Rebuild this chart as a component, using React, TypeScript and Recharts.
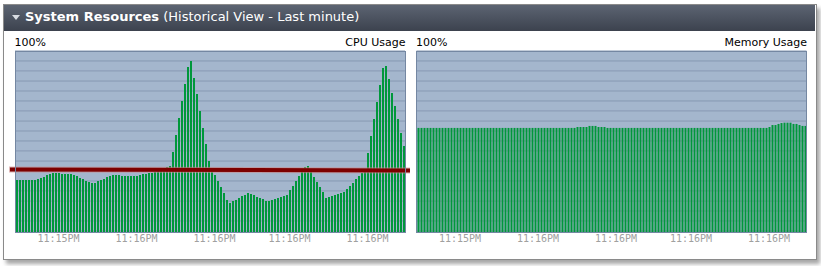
import React from 'react';
import { BarChart, Bar, XAxis, YAxis, CartesianGrid, ReferenceLine } from 'recharts';

// one sample per ~0.46s over the last minute
const cpuUsage = [
  28.7, 28.7, 28.7, 28.7, 28.7, 28.7, 28.7, 29.3, 29.8, 30.4,
  31.5, 32.0, 32.6, 32.6, 32.6, 32.0, 32.0, 32.0, 32.0, 31.5,
  30.9, 29.8, 29.3, 28.2, 27.6, 27.1, 27.1, 28.2, 28.7, 29.3,
  30.4, 30.9, 31.5, 31.5, 31.5, 30.9, 30.9, 30.9, 30.9, 30.9,
  30.9, 31.5, 32.0, 32.0, 32.6, 32.6, 33.1, 33.7, 34.3, 34.8,
  35.9, 36.5, 44.2, 53.6, 63.0, 72.4, 81.8, 91.2, 94.5, 85.1,
  76.2, 66.9, 57.5, 48.6, 39.2, 33.1, 31.5, 28.2, 24.9, 21.5,
  17.7, 16.0, 17.1, 17.7, 18.8, 19.9, 20.4, 21.5, 21.0, 20.4,
  19.3, 18.8, 18.2, 17.1, 17.1, 17.7, 18.2, 18.8, 19.3, 19.9,
  20.4, 23.2, 25.4, 28.2, 30.9, 33.1, 35.9, 36.5, 33.1, 30.4,
  27.6, 24.9, 22.1, 18.8, 19.3, 19.9, 20.4, 21.0, 21.5, 22.1,
  23.8, 25.4, 27.1, 29.3, 30.9, 32.6, 33.1, 43.6, 53.0, 62.4,
  71.8, 81.2, 90.6, 91.7, 84.5, 76.8, 69.6, 62.4, 54.7, 47.5,
];

const memoryUsage = [
  57.5, 57.5, 57.5, 57.5, 57.5, 57.5, 57.5, 57.5, 57.5, 57.5,
  57.5, 57.5, 57.5, 57.5, 57.5, 57.5, 57.5, 57.5, 57.5, 57.5,
  57.5, 57.5, 57.5, 57.5, 57.5, 57.5, 57.5, 57.5, 57.5, 57.5,
  57.5, 57.5, 57.5, 57.5, 57.5, 57.5, 57.5, 57.5, 57.5, 57.5,
  57.5, 57.5, 57.5, 57.5, 57.5, 57.5, 57.5, 57.5, 57.5, 57.5,
  57.5, 57.5, 57.5, 58.0, 58.0, 58.0, 58.0, 58.6, 58.6, 58.6,
  58.0, 58.0, 58.0, 57.5, 57.5, 57.5, 57.5, 57.5, 57.5, 57.5,
  57.5, 57.5, 57.5, 57.5, 57.5, 57.5, 57.5, 57.5, 57.5, 57.5,
  57.5, 57.5, 57.5, 57.5, 57.5, 57.5, 57.5, 57.5, 57.5, 57.5,
  57.5, 57.5, 57.5, 57.5, 57.5, 57.5, 57.5, 57.5, 57.5, 57.5,
  57.5, 57.5, 57.5, 57.5, 57.5, 57.5, 57.5, 57.5, 57.5, 57.5,
  57.5, 57.5, 57.5, 57.5, 57.5, 57.5, 57.5, 58.0, 59.1, 59.1,
  59.7, 60.2, 60.4, 60.4, 60.4, 59.7, 59.7, 59.1, 58.6, 58.6,
];

const cpuAverage = 34.3;

const samples = cpuUsage.map((_, i) => i);
const tickSamples = [14, 40, 66, 91, 117];
const tickLabels = ['11:15PM', '11:16PM', '11:16PM', '11:16PM', '11:16PM'];
const gridTicks = [94.5, 89.0, 83.4, 77.9, 72.4, 66.9, 61.3, 55.8, 50.3, 44.8, 39.2, 33.7, 28.2, 22.7, 17.1, 11.6, 6.1, 0.6];

const cpuData = samples.map((t, i) => ({ t, value: cpuUsage[i] }));
const memData = samples.map((t, i) => ({ t, value: memoryUsage[i] }));

const FONT = '"DejaVu Sans", Verdana, sans-serif';

const AvgLine = (props: any) => {
  const { x1, y1, x2, y2 } = props;
  return (
    <g>
      <line x1={x1 - 6} y1={y1 - 0.5} x2={x2 + 6} y2={y2 + 0.5} stroke="#c98a8a" strokeOpacity={0.6} strokeWidth={6} />
      <line x1={x1 - 5} y1={y1 - 0.5} x2={x2 + 5} y2={y2 + 0.5} stroke="#7d0000" strokeWidth={4} />
    </g>
  );
};

const UsageChart = ({ data, left, width, marginLeft, title, avg }: any) => (
  <div style={{ position: 'absolute', left, top: 0, width, height: 266 }}>
    <div style={{ position: 'absolute', left: marginLeft, top: 36, fontFamily: FONT, fontSize: 11, color: '#000' }}>100%</div>
    <div style={{ position: 'absolute', left: marginLeft, width: 391, top: 36, textAlign: 'right', fontFamily: FONT, fontSize: 11, color: '#000' }}>{title}</div>
    <BarChart
      width={width}
      height={266}
      data={data}
      margin={{ top: 51, left: marginLeft + 0.5, right: width - marginLeft - 390.5, bottom: 14 }}
      barCategoryGap={0}
    >
      <CartesianGrid vertical={false} stroke="#8799b3" fill="#a4b6cd" fillOpacity={1} />
      <XAxis
        dataKey="t"
        type="category"
        ticks={tickSamples}
        tickFormatter={(v: number) => tickLabels[tickSamples.indexOf(v)]}
        axisLine={false}
        tickLine={false}
        tickSize={0}
        tickMargin={3}
        height={20}
        interval={0}
        tick={{ fill: '#a0a0a0', fontSize: 10, fontFamily: '"DejaVu Sans Mono", monospace' }}
      />
      <YAxis hide domain={[0, 100]} ticks={gridTicks} interval={0} />
      <Bar dataKey="value" fill="#00973b" barSize={2} isAnimationActive={false} />
      {avg !== undefined && <ReferenceLine y={avg} shape={AvgLine} />}
    </BarChart>
    <div
      style={{
        position: 'absolute',
        left: marginLeft,
        top: 51,
        width: 391,
        height: 182,
        border: '1px solid #7487a2',
        boxSizing: 'border-box',
        pointerEvents: 'none',
      }}
    />
  </div>
);

export default function App() {
  return (
    <div style={{ position: 'absolute', left: 0, top: 0, width: 821, height: 266, background: '#fff', overflow: 'hidden' }}>
      <div
        style={{
          position: 'absolute',
          left: 3,
          top: 4,
          width: 812,
          height: 254,
          border: '1px solid #8a8a8a',
          background: '#fff',
          boxShadow: '3px 4px 4px rgba(0,0,0,0.35)',
        }}
      />
      <div
        style={{
          position: 'absolute',
          left: 4,
          top: 5,
          width: 811,
          height: 26,
          background: 'linear-gradient(#5c6472, #3c424e)',
          color: '#fff',
          fontFamily: FONT,
          fontSize: 13,
          lineHeight: '26px',
        }}
      >
        <svg width={8} height={6} style={{ position: 'absolute', left: 8, top: 10 }}>
          <polygon points="0,0 8,0 4,5" fill="#d8dce2" />
        </svg>
        <span style={{ position: 'absolute', left: 21, top: -1, whiteSpace: 'nowrap' }}>
          <b>System Resources</b> (Historical View - Last minute)
        </span>
      </div>
      <UsageChart data={cpuData} left={0} width={410} marginLeft={14.5} title="CPU Usage" avg={cpuAverage} />
      <UsageChart data={memData} left={402} width={419} marginLeft={14} title="Memory Usage" />
    </div>
  );
}
